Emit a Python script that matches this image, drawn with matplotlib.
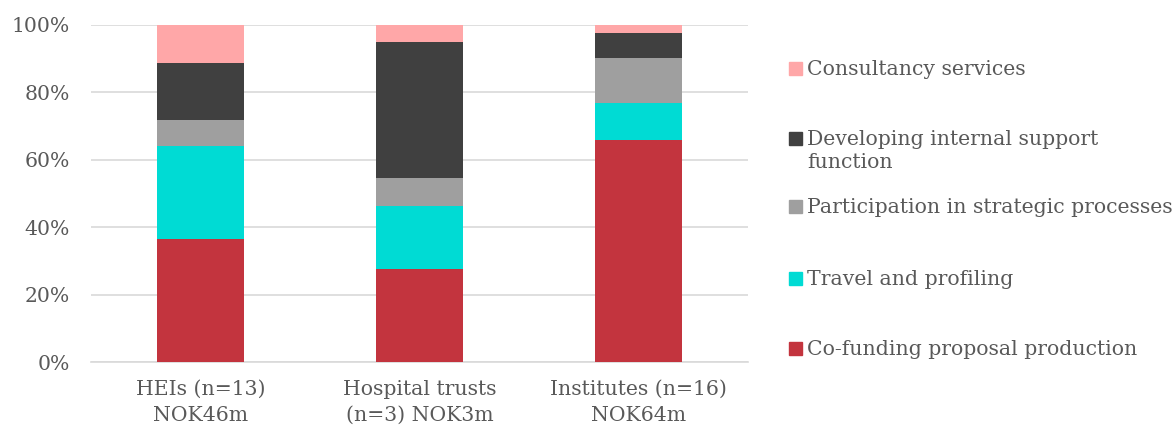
import matplotlib.pyplot as plt
import numpy as np
from matplotlib.patches import Rectangle

plt.rcParams['font.family'] = ['DejaVu Serif']

categories = ["HEIs (n=13)\nNOK46m", "Hospital trusts\n(n=3) NOK3m", "Institutes (n=16)\nNOK64m"]
series_names = ["Co-funding proposal production", "Travel and profiling",
                "Participation in strategic processes",
                "Developing internal support\nfunction", "Consultancy services"]
cofunding = [36.6, 27.5, 65.9]
travel = [27.6, 18.8, 11.0]
participation = [7.6, 8.4, 13.2]
internal = [17.0, 40.3, 7.6]
consultancy = [11.2, 5.0, 2.3]
colors = ["#C3343E", "#00DBD4", "#9F9F9F", "#404040", "#FFA7A8"]

txt = "#595959"
grid = "#D9D9D9"
fs = 14.7

fig = plt.figure(figsize=(11.76, 4.28), dpi=100)
ax = fig.add_axes([91 / 1176, 1 - 362 / 428, 657 / 1176, 337 / 428])

x = np.arange(len(categories))
bottom = np.zeros(len(categories))
for vals, col in zip([cofunding, travel, participation, internal, consultancy], colors):
    ax.bar(x, vals, 0.4, bottom=bottom, color=col, zorder=3)
    bottom += np.array(vals)

ax.set_xlim(-0.5, 2.5)
ax.set_ylim(0, 100)
ax.set_yticks(range(0, 101, 20))
ax.set_yticklabels([f"{v}%" for v in range(0, 101, 20)])
ax.set_xticks(x)
ax.set_xticklabels(categories, linespacing=1.45)
ax.tick_params(axis='both', length=0, labelsize=fs, colors=txt)
ax.tick_params(axis='y', pad=15)
ax.tick_params(axis='x', pad=13)
ax.grid(axis='y', color=grid, linewidth=1.2, zorder=0)
for s in ['top', 'right', 'left']:
    ax.spines[s].set_visible(False)
ax.spines['bottom'].set_color(grid)
ax.spines['bottom'].set_linewidth(1.2)

# legend, top entry first
leg_y = [69, 139, 207, 279, 349]
for name, col, yy in zip(series_names[::-1], colors[::-1], leg_y):
    fig.patches.append(Rectangle((789 / 1176, 1 - (yy + 6) / 428), 13 / 1176, 13 / 428,
                                 transform=fig.transFigure, color=col))
    fig.text(807 / 1176, 1 - (yy - 9) / 428, name, color=txt, fontsize=fs,
             va='top', ha='left', linespacing=1.3)

fig.savefig("out.png", dpi=100)
